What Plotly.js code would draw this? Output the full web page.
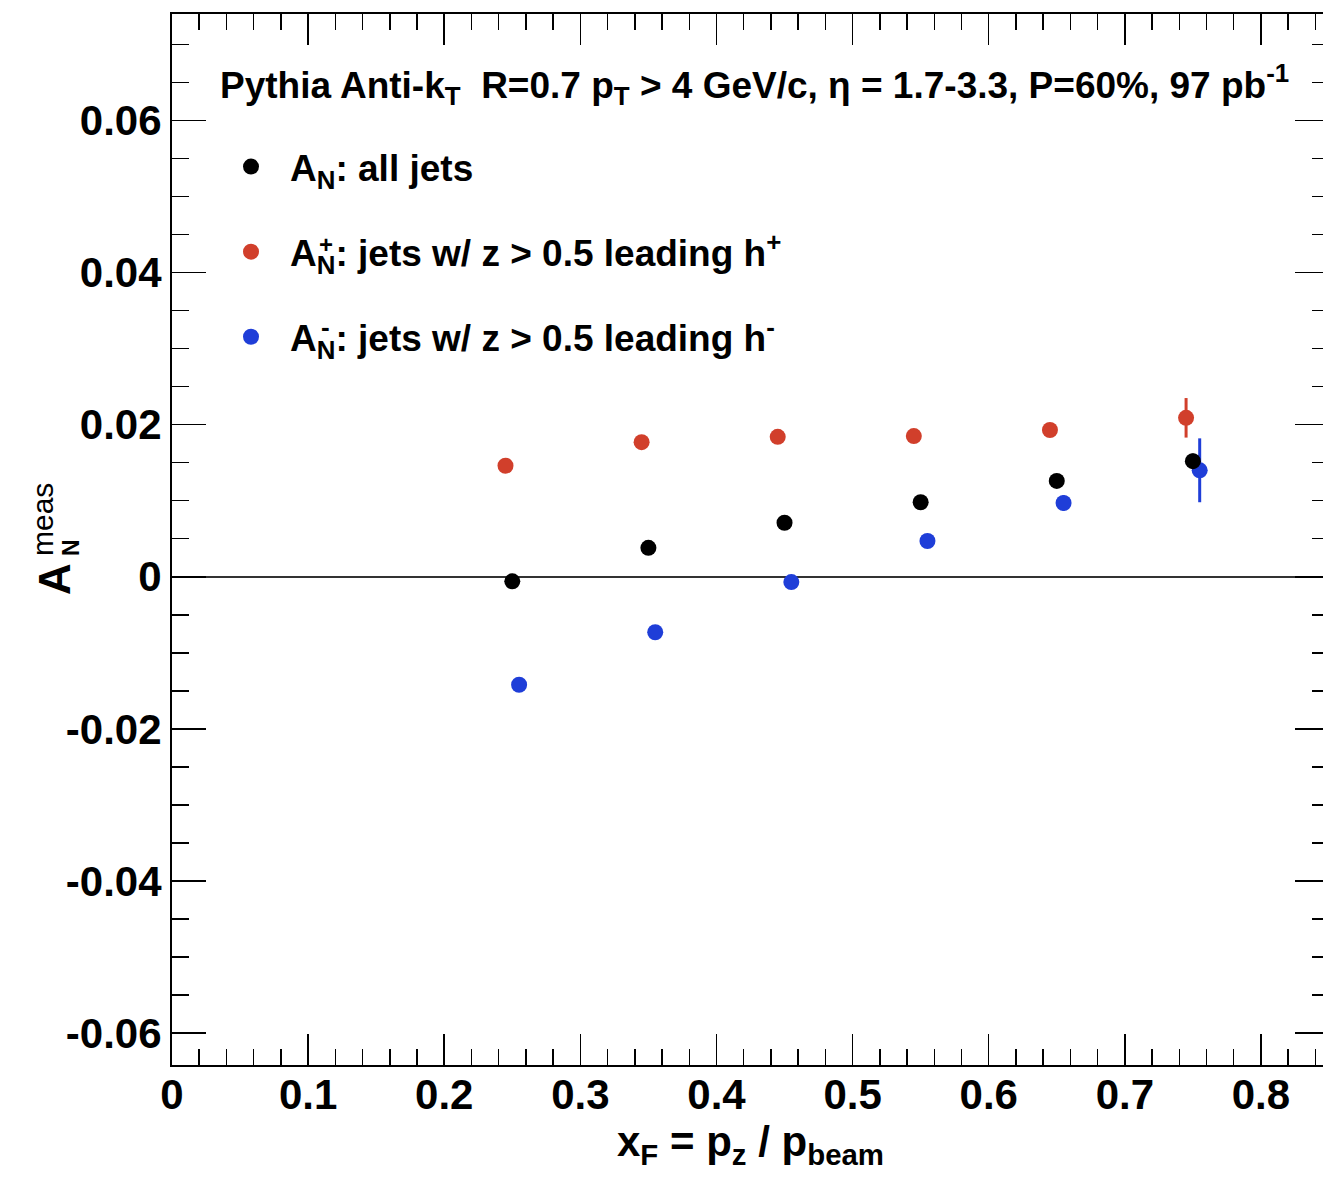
<!DOCTYPE html>
<html>
<head>
<meta charset="utf-8">
<script src="https://cdn.plot.ly/plotly-3.0.1.min.js"></script>
<style>
html, body { margin: 0; padding: 0; overflow: hidden; background: #fff; }
#chart { width: 1331px; height: 1177px; }
</style>
</head>
<body>
<div id="chart"></div>
<script>
// ---- data ----
const xAll   = [0.25, 0.35, 0.45, 0.55, 0.65, 0.75];
const yAll   = [-0.0006, 0.0038, 0.0071, 0.0098, 0.0126, 0.0152];
const eAll   = [0.0002, 0.0003, 0.0004, 0.0005, 0.0007, 0.0010];

const xPlus  = [0.245, 0.345, 0.445, 0.545, 0.645, 0.745];
const yPlus  = [0.0146, 0.0177, 0.0184, 0.0185, 0.0193, 0.0209];
const ePlus  = [0.0003, 0.0004, 0.0005, 0.0006, 0.0009, 0.0026];

const xMinus = [0.255, 0.355, 0.455, 0.555, 0.655, 0.755];
const yMinus = [-0.0142, -0.0073, -0.0007, 0.0047, 0.0097, 0.0140];
const eMinus = [0.0003, 0.0004, 0.0005, 0.0007, 0.0010, 0.0042];

const xTickVals = [0, 0.1, 0.2, 0.3, 0.4, 0.5, 0.6, 0.7, 0.8];
const xTickText = ['0', '0.1', '0.2', '0.3', '0.4', '0.5', '0.6', '0.7', '0.8'];
const yTickVals = [-0.06, -0.04, -0.02, 0, 0.02, 0.04, 0.06];
const yTickText = ['-0.06', '-0.04', '-0.02', '0', '0.02', '0.04', '0.06'];

const nameAll   = 'A<sub>N</sub>: all jets';
const namePlus  = 'A<sub>N</sub>: jets w/ z > 0.5 leading h<sup>+</sup>';
const nameMinus = 'A<sub>N</sub>: jets w/ z > 0.5 leading h<sup>-</sup>';
const titleText = 'Pythia Anti-k<sub>T</sub>  R=0.7 p<sub>T</sub> > 4 GeV/c, \u03b7 = 1.7-3.3, P=60%, 97 pb<sup>-1</sup>';

// ---- layout geometry helpers (pixels -> paper) ----
const W = 1331, H = 1177, ML = 172, MR = 2, MT = 14, MB = 112;
const PW = W - ML - MR, PH = H - MT - MB;
const px = p => (p - ML) / PW;
const py = p => (H - MB - p) / PH;

const FONT = 'Liberation Sans, Arial, Helvetica, sans-serif';
const red = '#d13f2b', blue = '#1f3ed8';

function tr(x, y, e, color, name, rank) {
  return {
    type: 'scatter', mode: 'markers', x: x, y: y, name: name,
    legendgroup: name, legendrank: rank,
    marker: { color: color, size: 16, line: { width: 0 } },
    error_y: { type: 'data', array: e, visible: true, color: color, thickness: 3, width: 0 },
    hoverinfo: 'x+y'
  };
}

const data = [
  tr(xMinus, yMinus, eMinus, blue, nameMinus, 3),
  tr(xPlus, yPlus, ePlus, red, namePlus, 2),
  tr(xAll, yAll, eAll, '#000', nameAll, 1)
];

const axisCommon = {
  showline: true, linecolor: '#000', linewidth: 2, mirror: 'ticks',
  ticks: 'inside', tickcolor: '#000', tickwidth: 1.5,
  showgrid: false, tickmode: 'array',
  tickfont: { family: FONT, size: 42, color: '#000', weight: 'bold' }
};

const layout = {
  width: W, height: H,
  margin: { l: ML, r: MR, t: MT, b: MB, pad: 0 },
  paper_bgcolor: '#fff', plot_bgcolor: '#fff',
  font: { family: FONT, color: '#000' },
  showlegend: true,
  legend: {
    x: px(212), y: py(136), xanchor: 'left', yanchor: 'top',
    bgcolor: 'rgba(0,0,0,0)', borderwidth: 0,
    itemwidth: 68, tracegroupgap: 34, traceorder: 'grouped',
    font: { family: FONT, size: 37, color: '#000', weight: 'bold' }
  },
  xaxis: Object.assign({}, axisCommon, {
    range: [0, 0.85], tickvals: xTickVals, ticktext: xTickText, ticklen: 31,
    ticklabelstandoff: -8,
    minor: { dtick: 0.02, tick0: 0, ticklen: 16, ticks: 'inside', tickcolor: '#000', tickwidth: 1.5 },
    zeroline: false,
    title: { text: 'x<sub>F</sub> = p<sub>z</sub> / p<sub>beam</sub>', standoff: 6,
             font: { family: FONT, size: 42, color: '#000', weight: 'bold' } }
  }),
  yaxis: Object.assign({}, axisCommon, {
    range: [-0.0642, 0.074], tickvals: yTickVals, ticktext: yTickText, ticklen: 34,
    minor: { dtick: 0.005, tick0: 0, ticklen: 17, ticks: 'inside', tickcolor: '#000', tickwidth: 1.5 },
    zeroline: true, zerolinecolor: '#333', zerolinewidth: 2
  }),
  annotations: [
    { xref: 'paper', yref: 'paper', x: px(218), y: py(84), xanchor: 'left', yanchor: 'middle',
      showarrow: false, text: titleText,
      font: { family: FONT, size: 37, color: '#000', weight: 'bold' } },
    // y-axis title: A, subscript N and stacked superscript "meas"
    { xref: 'paper', yref: 'paper', x: px(54), y: py(579), xanchor: 'center', yanchor: 'middle',
      showarrow: false, textangle: -90, text: 'A',
      font: { family: FONT, size: 44, color: '#000', weight: 'bold' } },
    { xref: 'paper', yref: 'paper', x: px(71), y: py(548), xanchor: 'center', yanchor: 'middle',
      showarrow: false, textangle: -90, text: 'N',
      font: { family: FONT, size: 23, color: '#000', weight: 'bold' } },
    { xref: 'paper', yref: 'paper', x: px(42), y: py(520), xanchor: 'center', yanchor: 'middle',
      showarrow: false, textangle: -90, text: 'meas',
      font: { family: FONT, size: 30, color: '#000' } },
    // stacked superscripts over the legend subscripts
    { xref: 'paper', yref: 'paper', x: px(326), y: py(245), xanchor: 'center', yanchor: 'middle',
      showarrow: false, text: '+',
      font: { family: FONT, size: 24, color: '#000', weight: 'bold' } },
    { xref: 'paper', yref: 'paper', x: px(325), y: py(327), xanchor: 'center', yanchor: 'middle',
      showarrow: false, text: '-',
      font: { family: FONT, size: 26, color: '#000', weight: 'bold' } }
  ]
};

Plotly.newPlot('chart', data, layout, { displayModeBar: false, staticPlot: true });
</script>
</body>
</html>
